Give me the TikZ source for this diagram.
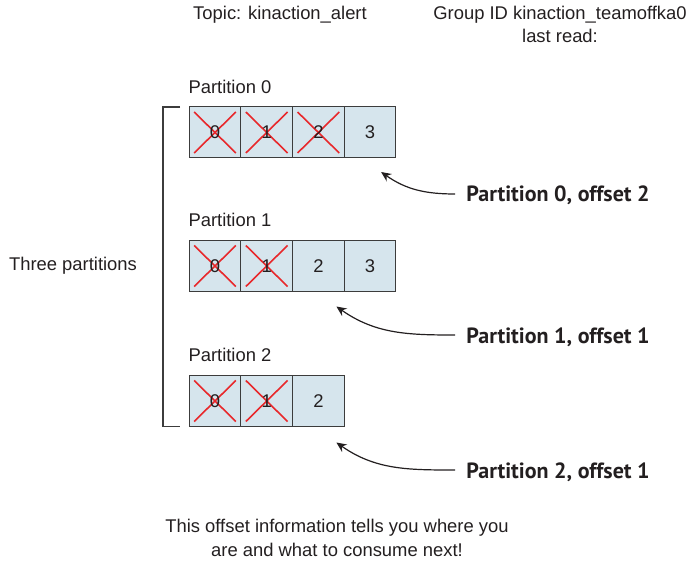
\documentclass[tikz,border=0pt]{standalone}
\usepackage{fontspec}
\setmainfont{Liberation Sans}
\newfontfamily\calloutfont{PT Sans}
\usepackage{tikz}
\usetikzlibrary{arrows.meta,positioning}
\definecolor{cellblue}{RGB}{214,229,237}
\definecolor{crossred}{RGB}{232,40,43}
\definecolor{inkgray}{RGB}{35,31,32}
\definecolor{edgegray}{RGB}{60,60,60}

\begin{document}
\begin{tikzpicture}[x=0.5pt, y=-0.5pt,
  every node/.style={text=inkgray, font=\fontsize{9.2}{12}\selectfont},
  cell/.style={draw=edgegray, line width=0.5pt, fill=cellblue, minimum width=25.85pt, minimum height=25.5pt, inner sep=0pt, outer sep=0pt},
  gone/.style={path picture={
    \draw[crossred, line width=0.8pt]
      ([shift={(2.5pt,-2.5pt)}]path picture bounding box.north west) -- ([shift={(-2.5pt,2.5pt)}]path picture bounding box.south east)
      ([shift={(-2.5pt,-2.5pt)}]path picture bounding box.north east) -- ([shift={(2.5pt,2.5pt)}]path picture bounding box.south west);}},
  plabel/.style={inner sep=0pt},
  callout/.style={inner sep=0pt, anchor=base west, font=\calloutfont\bfseries\fontsize{11}{12}\selectfont},
  arrow/.style={-{Stealth[length=5pt, width=4.5pt]}, line width=0.6pt, draw=inkgray},
  bracket/.style={draw=edgegray, line width=0.8pt}
]
\useasboundingbox (0,0) rectangle (690,561);

% header
\node[anchor=north, inner sep=0pt] (topic) at (280,6) {Topic: kinaction\_alert};
\node[anchor=north, inner sep=0pt, align=center, font=\fontsize{9.2}{11.4}\selectfont] (group) at (560,6) {Group ID kinaction\_teamoffka0\\last read:};

% partition 0
\node[cell, gone] (c00) at (215,132.5) {0};
\node[cell, gone, right=0pt of c00] (c01) {1};
\node[cell, gone, right=0pt of c01] (c02) {2};
\node[cell, right=0pt of c02] (c03) {3};
\node[plabel, above right=6.5pt and -0.5pt of c00.north west] (lab0) {Partition 0};

% partition 1
\node[cell, gone] (c10) at (215,266) {0};
\node[cell, gone, right=0pt of c10] (c11) {1};
\node[cell, right=0pt of c11] (c12) {2};
\node[cell, right=0pt of c12] (c13) {3};
\node[plabel, above right=6.5pt and -0.5pt of c10.north west] (lab1) {Partition 1};

% partition 2
\node[cell, gone] (c20) at (215,401) {0};
\node[cell, gone, right=0pt of c20] (c21) {1};
\node[cell, right=0pt of c21] (c22) {2};
\node[plabel, above right=6.5pt and -0.5pt of c20.north west] (lab2) {Partition 2};

% bracket
\draw[bracket] ([xshift=-4.5pt]c00.north west) -- ++(-8.5pt,0pt) |- ([xshift=-4.5pt]c20.south west);
\node (three) at (73,266) {Three partitions};

% offsets
\node[callout] (off0) at (466,202) {Partition 0, offset 2};
\node[callout] (off1) at (466,343) {Partition 1, offset 1};
\node[callout] (off2) at (466,478) {Partition 2, offset 1};
\coordinate (t0) at ([shift={(5.5pt,-7pt)}]c03.south);
\coordinate (t1) at ([shift={(9pt,-7.5pt)}]c12.south);
\coordinate (t2) at ([shift={(9pt,-8pt)}]c22.south);
\draw[arrow] ([shift={(-5.5pt,4pt)}]off0.base west) to[out=180, in=-35] (t0);
\draw[arrow] ([shift={(-5.5pt,4pt)}]off1.base west) to[out=180, in=-35] (t1);
\draw[arrow] ([shift={(-5.5pt,4pt)}]off2.base west) to[out=180, in=-35] (t2);

\node[anchor=north, inner sep=0pt, align=center] (note) at (337,519) {This offset information tells you where you\\are and what to consume next!};
\end{tikzpicture}
\end{document}
